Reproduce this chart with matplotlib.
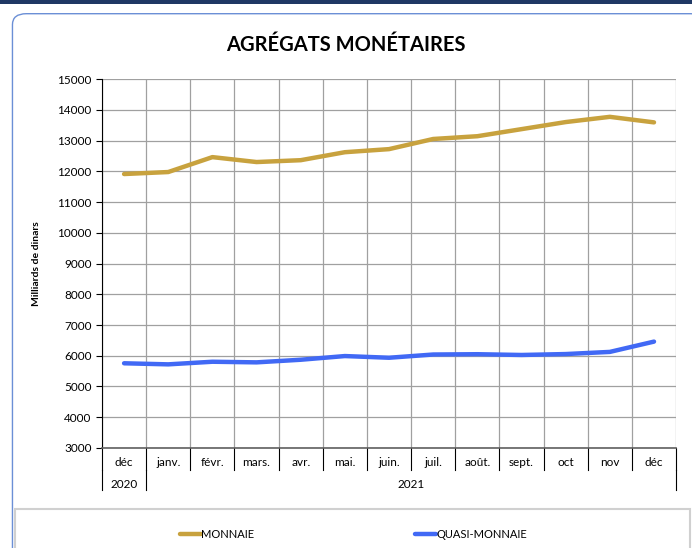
import matplotlib.pyplot as plt
from matplotlib.patches import FancyBboxPatch, Rectangle

# données (milliards de dinars)
mois = ['déc', 'janv.', 'févr.', 'mars.', 'avr.', 'mai.', 'juin.', 'juil.',
        'août.', 'sept.', 'oct', 'nov', 'déc']
annees = ['2020', '2021']
nb_mois_annee = [1, 12]
monnaie = [11910, 11975, 12460, 12300, 12360, 12620, 12720, 13050,
           13140, 13370, 13600, 13770, 13590]
quasi_monnaie = [5755, 5720, 5805, 5785, 5870, 5990, 5935, 6040,
                 6050, 6025, 6055, 6125, 6460]

plt.rcParams['font.family'] = ['Lato', 'DejaVu Sans']

fig = plt.figure(figsize=(6.92, 5.48), dpi=100)

# cadre
fig.patches.append(Rectangle((0, 0.992), 1, 0.008, transform=fig.transFigure,
                             facecolor='#1f3864', edgecolor='none', zorder=-10))
fig.patches.append(FancyBboxPatch((0.018, -0.05), 1.0, 1.025, transform=fig.transFigure,
                                  boxstyle='round,pad=0,rounding_size=0.02',
                                  facecolor='white', edgecolor='#6b8fd6', linewidth=1,
                                  zorder=-10))
fig.patches.append(Rectangle((0.022, -0.01), 0.975, 0.082, transform=fig.transFigure,
                             facecolor='white', edgecolor='#d0d0d0', linewidth=1.5,
                             zorder=-9))

ax = fig.add_axes([0.1474, 0.1825, 0.8296, 0.6733])
ax.set_zorder(1)
x = range(len(mois))
l1, = ax.plot(x, monnaie, color='#c8a23e', linewidth=3.2, solid_capstyle='round')
l2, = ax.plot(x, quasi_monnaie, color='#4169f5', linewidth=3.2, solid_capstyle='round')

ax.set_xlim(-0.5, len(mois) - 0.5)
ax.set_ylim(3000, 15000)
ax.set_yticks(range(3000, 15001, 1000))
ax.set_xticks([i + 0.5 for i in range(-1, len(mois))])
ax.set_xticklabels([])
ax.tick_params(axis='x', length=0)
ax.tick_params(axis='y', labelsize=8.5, length=4, color='black')
ax.grid(True, color='#a0a0a0', linewidth=0.9)
for s in ['top', 'right']:
    ax.spines[s].set_visible(False)
ax.spines['bottom'].set_color('#606060')
ax.spines['bottom'].set_linewidth(1.2)
ax.spines['left'].set_color('black')

# étiquettes de catégories
tr = ax.get_xaxis_transform()
for i, m in enumerate(mois):
    ax.text(i, -0.039, m, transform=tr, ha='center', va='center', fontsize=8.5)
for i in range(len(mois) + 1):
    ax.plot([i - 0.5, i - 0.5], [0, -0.06], transform=tr,
            color='black', linewidth=0.8, clip_on=False)
debut = 0
for a, n in zip(annees, nb_mois_annee):
    ax.text(debut + (n - 1) / 2, -0.098, a, transform=tr,
            ha='center', va='center', fontsize=8.5)
    ax.plot([debut - 0.5, debut - 0.5], [-0.06, -0.114], transform=tr,
            color='black', linewidth=0.8, clip_on=False)
    debut += n
ax.plot([debut - 0.5, debut - 0.5], [-0.06, -0.114], transform=tr,
        color='black', linewidth=0.8, clip_on=False)

ax.set_ylabel('Milliards de dinars', fontsize=7.5, fontweight='bold', labelpad=12)
fig.text(0.5, 0.918, 'AGRÉGATS MONÉTAIRES', ha='center', va='center',
         fontsize=14.5, fontweight='bold')

fig.legend(handles=[l1, l2], labels=['MONNAIE', 'QUASI-MONNAIE'], loc='center',
           bbox_to_anchor=(0.511, 0.024), ncol=2, frameon=False, fontsize=8,
           handlelength=1.9, handletextpad=0.0, columnspacing=14.5)

fig.savefig('out.png', dpi=100)
